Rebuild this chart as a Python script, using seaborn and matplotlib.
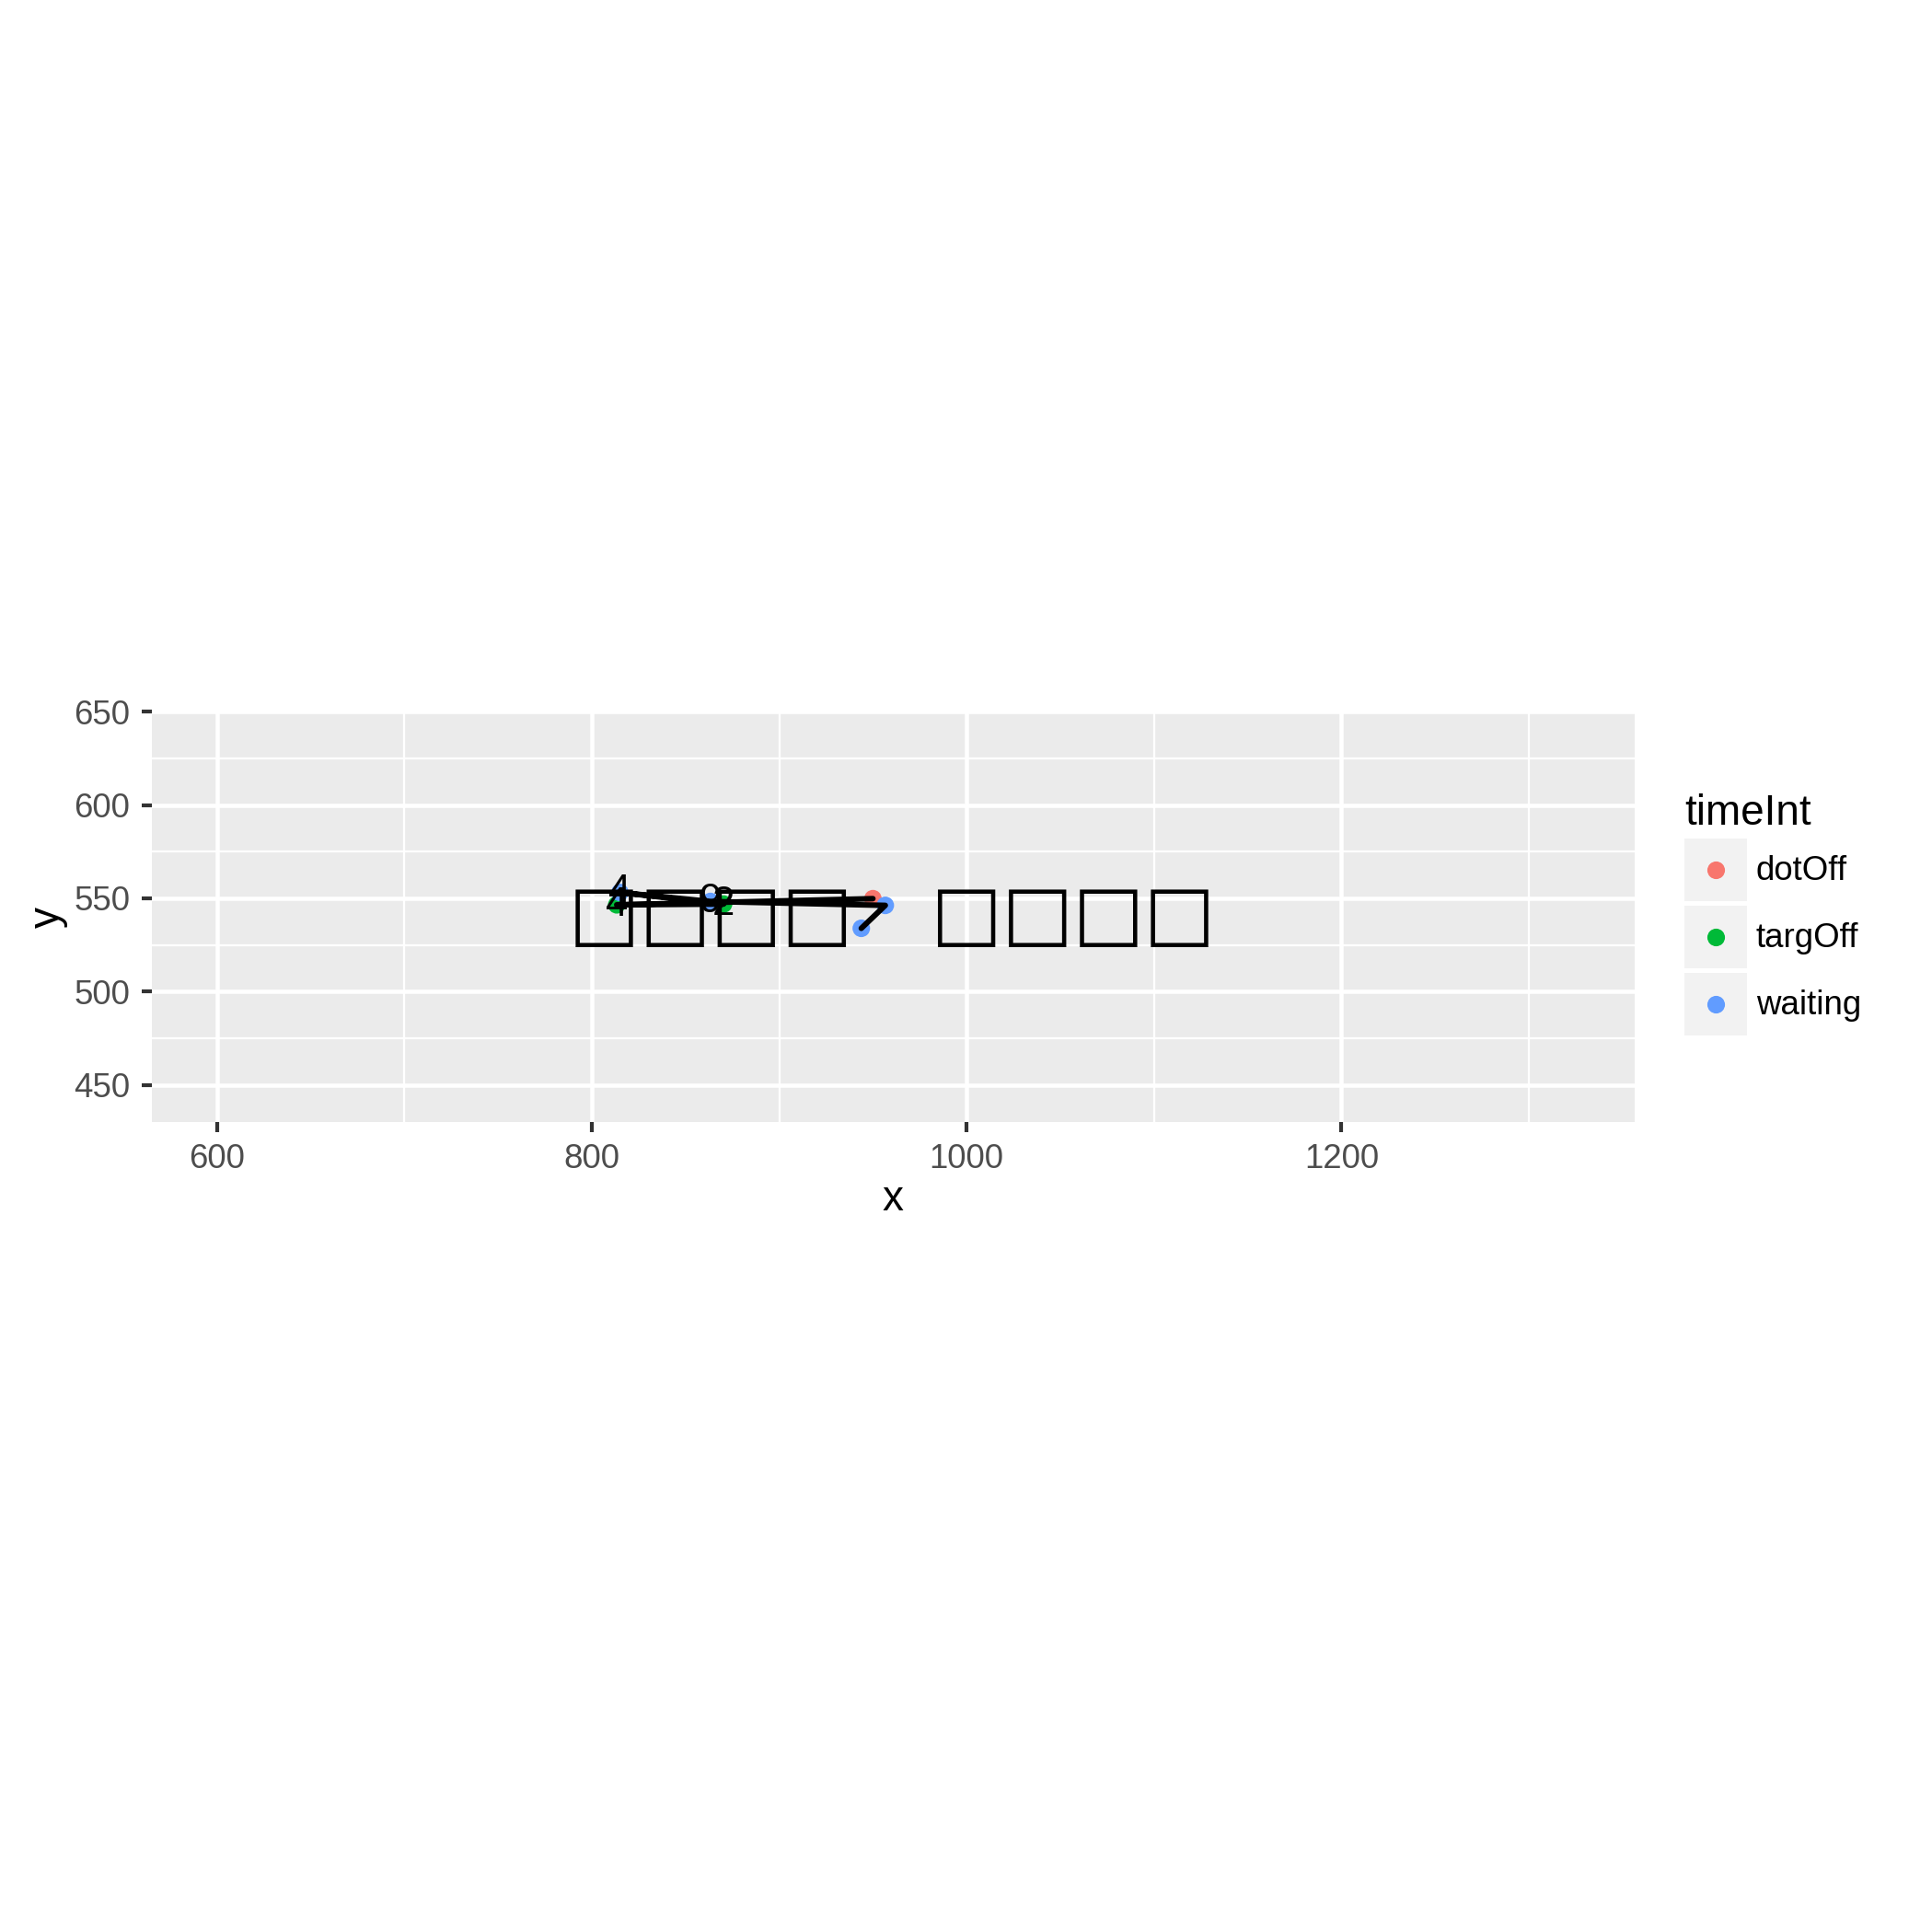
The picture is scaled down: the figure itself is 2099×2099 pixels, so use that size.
import matplotlib
matplotlib.use("Agg")
import matplotlib.pyplot as plt
from matplotlib.lines import Line2D
from matplotlib.patches import Rectangle
from matplotlib.legend_handler import HandlerBase
import seaborn as sns
import pandas as pd

# gaze samples, in recording order (path follows this order)
x_vals = [950.0, 813.3, 870.3, 815.0, 863.3, 956.6, 943.8]
y_vals = [549.8, 546.5, 546.9, 553.1, 548.3, 546.2, 533.9]
time_int = ['dotOff', 'targOff', 'targOff', 'waiting', 'waiting', 'waiting', 'waiting']
point_labels = ['', '4', '2', '4', '9', '', '']

levels = ['dotOff', 'targOff', 'waiting']
colors = ['#F8766D', '#00BA38', '#619CFF']

# the string shown on the plot (glyphs missing in the original font)
note_text = "\u25a1\u25a1\u25a1\u25a1   \u25a1\u25a1\u25a1\u25a1"
note_x = 960
note_y = 540

x_major = [600, 800, 1000, 1200]
x_minor = [700, 900, 1100, 1300]
y_major = [450, 500, 550, 600, 650]
y_minor = [475, 525, 575, 625]

df = pd.DataFrame({'x': x_vals, 'y': y_vals, 'timeInt': time_int, 'lab': point_labels})


class KeyHandler(HandlerBase):
    # ggplot-like legend key: grey square with the dot in the middle
    def create_artists(self, legend, orig_handle, xdescent, ydescent, width, height, fontsize, trans):
        rect = Rectangle((-xdescent, -ydescent), width, height, facecolor='#F2F2F2',
                         edgecolor='none', transform=trans)
        dot = Line2D([-xdescent + width / 2], [-ydescent + height / 2], marker='o', ls='',
                     color=orig_handle.get_color(), markersize=4.6, markeredgewidth=0,
                     transform=trans)
        return [rect, dot]


sns.set_theme(style="darkgrid", rc={"axes.facecolor": "#EBEBEB", "grid.color": "white"})
plt.rcParams['font.family'] = ['Liberation Sans', 'DejaVu Sans']

W = 2099
fig = plt.figure(figsize=(W / 300, W / 300), dpi=300)
ax = fig.add_axes([164.5 / W, 1 - 1219.3 / W, (1776 - 164.5) / W, (1219.3 - 773.3) / W])

sns.scatterplot(data=df, x='x', y='y', hue='timeInt', hue_order=levels, palette=colors,
                s=21, linewidth=0, legend=False, ax=ax, zorder=3)
sns.lineplot(data=df, x='x', y='y', sort=False, estimator=None, color='black',
             lw=1.45, ax=ax, zorder=4)
for _, r in df.iterrows():
    if r['lab']:
        ax.text(r['x'], r['y'], r['lab'], fontsize=10.5, color='black',
                ha='center', va='center', zorder=5)

ax.text(note_x, note_y, note_text, fontsize=19.6, family=['DejaVu Sans'], fontweight='bold',
        color='black', ha='center', va='center', zorder=5)

ax.set_xlim(565.0, 1356.5)
ax.set_ylim(429.9, 648.9)
ax.set_xticks(x_major)
ax.set_xticks(x_minor, minor=True)
ax.set_yticks(y_major)
ax.set_yticks(y_minor, minor=True)
ax.grid(which='major', color='white', lw=1.1)
ax.grid(which='minor', color='white', lw=0.55)
ax.tick_params(which='major', length=2.75, width=1.0, color='#333333', labelsize=8.8,
               labelcolor='#4D4D4D', pad=2.8, bottom=True, left=True)
ax.tick_params(which='minor', length=0)
for s in ax.spines.values():
    s.set_visible(False)

ax.set_xlabel('x', fontsize=11, color='black')
ax.set_ylabel('y', fontsize=11, color='black')
ax.xaxis.set_label_coords(0.5, -0.2146)
ax.xaxis.label.set_va('baseline')
ax.yaxis.set_label_coords(-0.070, 0.5)
ax.yaxis.label.set_va('center')

handles = [Line2D([], [], marker='o', ls='', color=c) for c in colors]
leg = fig.legend(handles, levels, title='timeInt', handler_map={Line2D: KeyHandler()},
                 loc='upper left', bbox_to_anchor=(1830 / W, 1 - 862 / W), frameon=False,
                 fontsize=8.8, title_fontsize=11, handlelength=1.85, handleheight=2.47,
                 labelspacing=0.14, handletextpad=0.27, borderpad=0, borderaxespad=0,
                 alignment='left', labelcolor='black')
leg.get_title().set_color('black')

fig.savefig('out.png', dpi=300)
